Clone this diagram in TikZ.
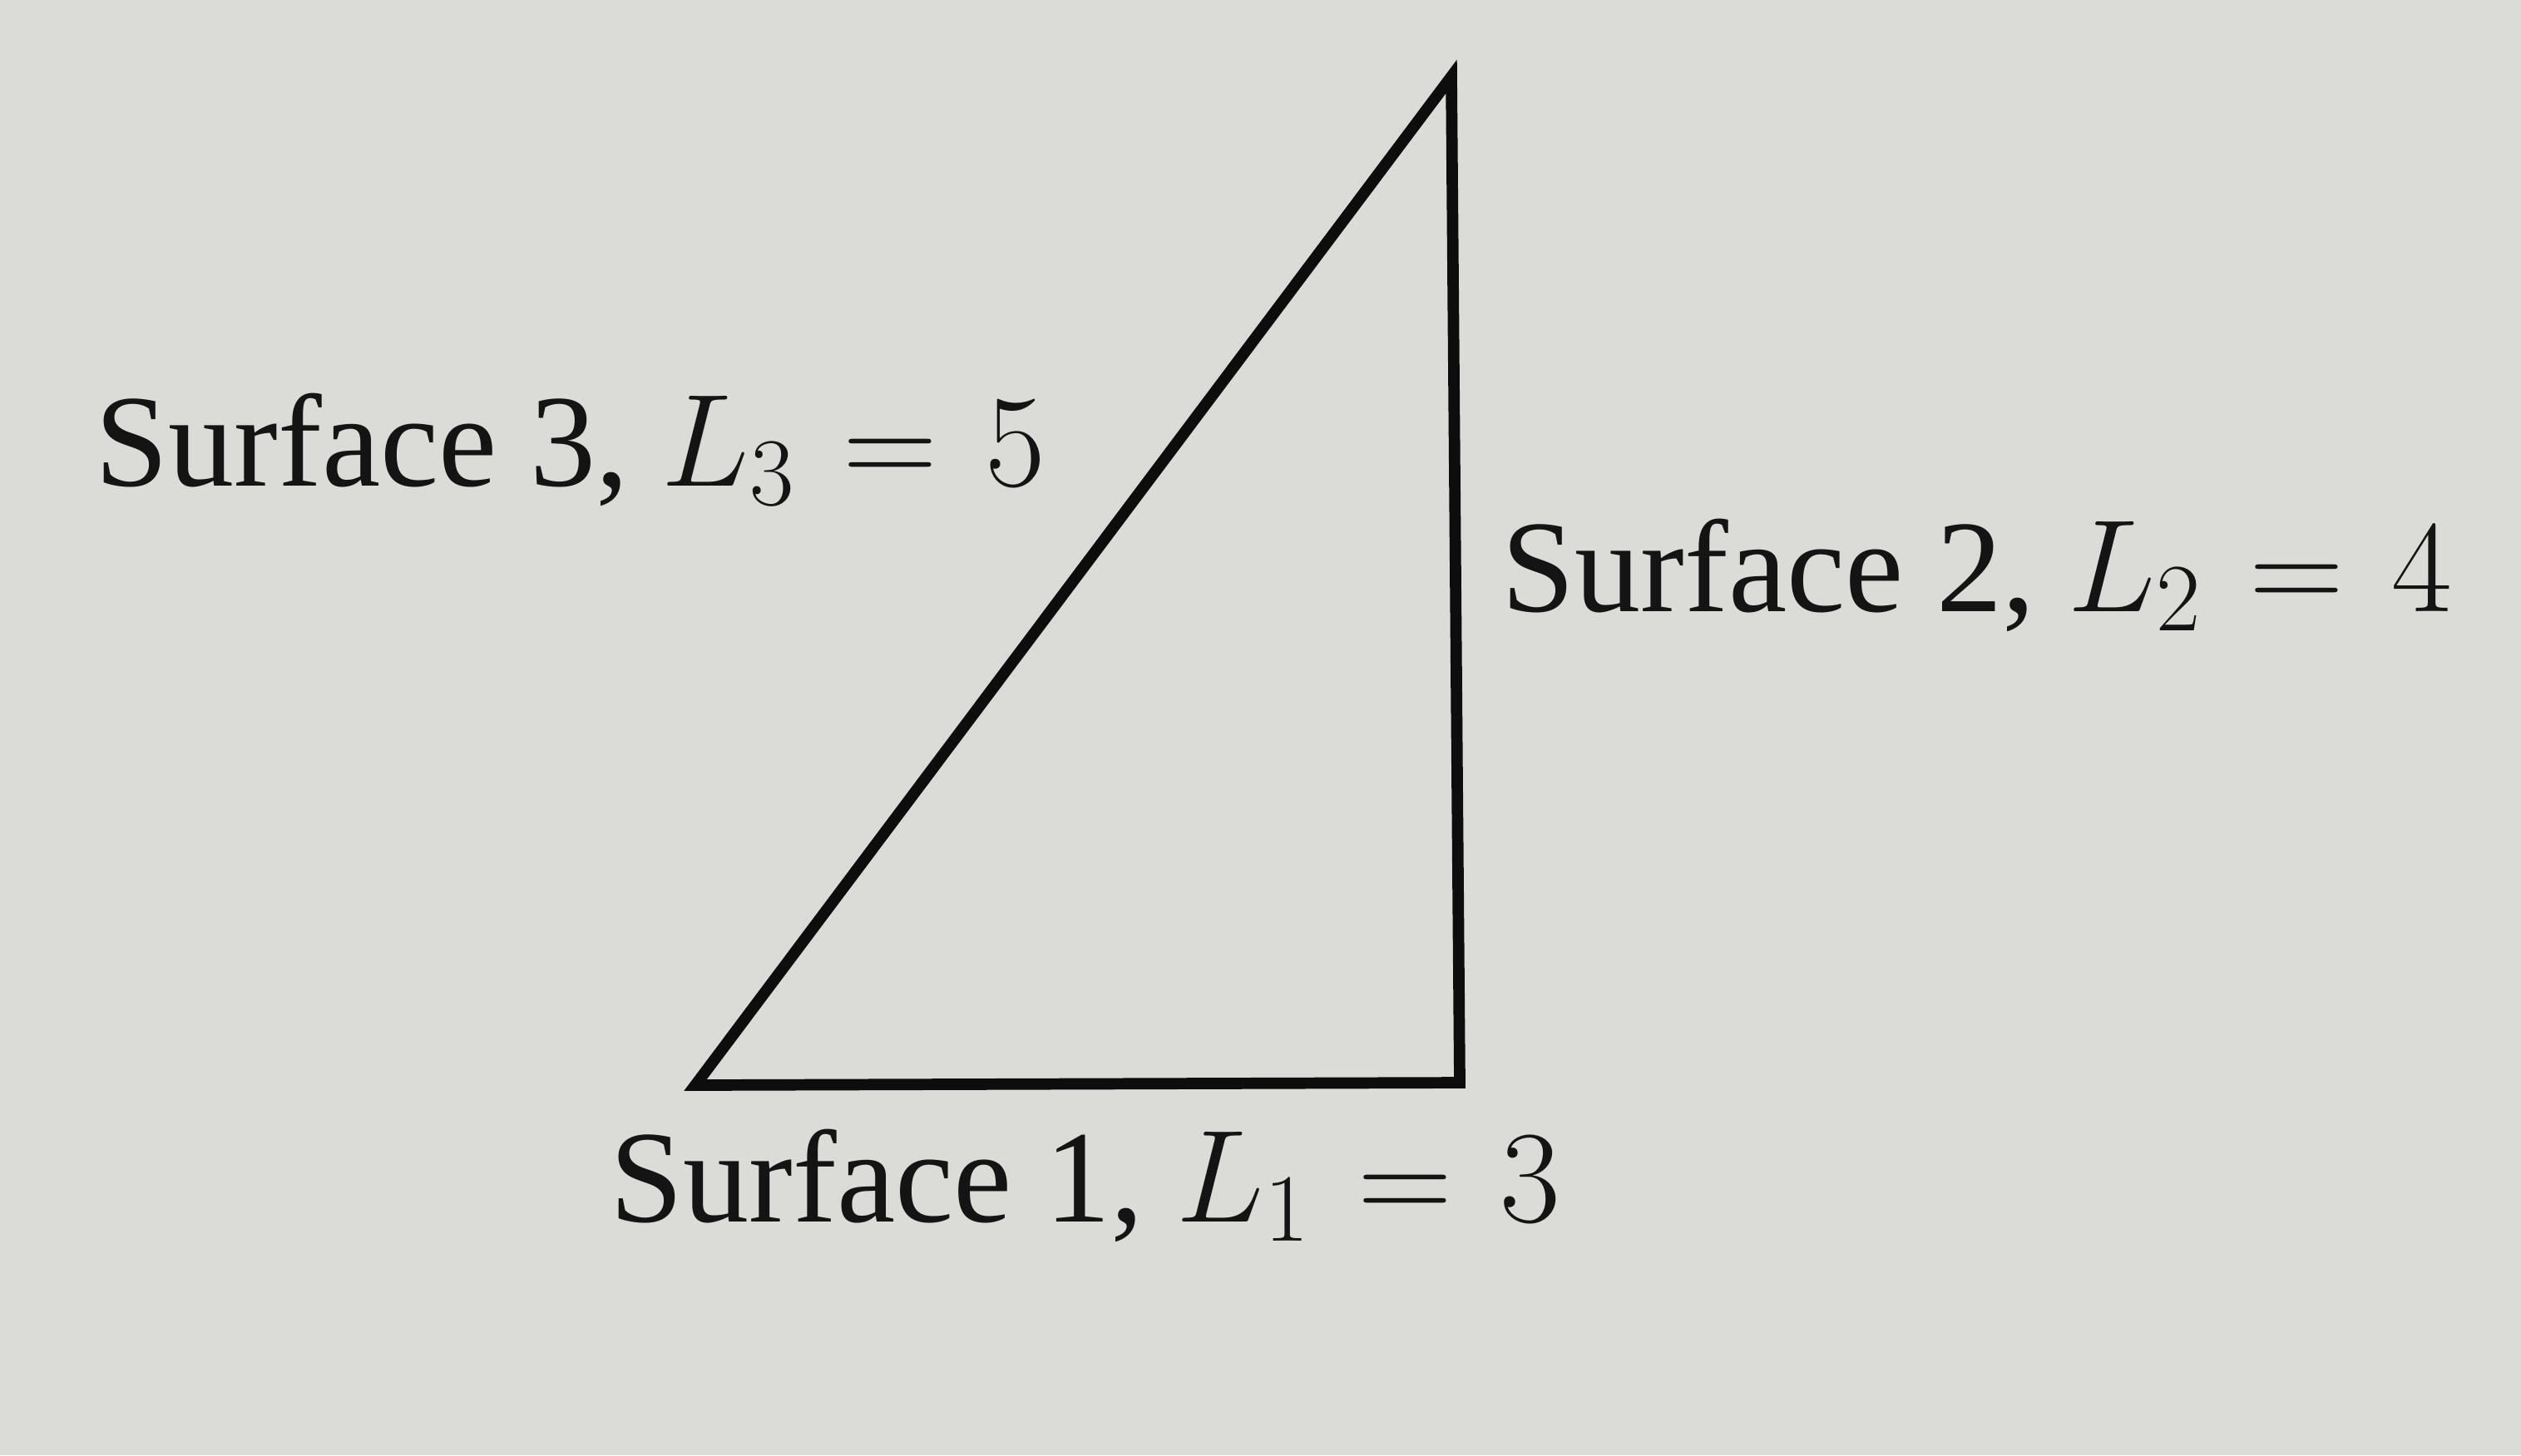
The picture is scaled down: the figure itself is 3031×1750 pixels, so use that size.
\RequirePackage{fix-cm}
\documentclass[tikz,border=0pt]{standalone}
\usepackage[no-math]{fontspec}
\setmainfont{Liberation Serif}
\DeclareMathSizes{45}{45}{33}{24}
\begin{document}
\begin{tikzpicture}[x=0.01cm,y=-0.01cm,
  lbl/.style={anchor=base west,inner sep=0pt,font=\fontsize{45}{52}\selectfont,text=black!92},
  edge/.style={line width=3.9pt,line join=miter,black!95}]
\fill[fill={rgb,255:red,219;green,219;blue,216}] (0,0) rectangle (3031,1750);
\useasboundingbox (0,0) rectangle (3031,1750);
\coordinate (A) at (836,1305);
\coordinate (B) at (1755,1302);
\coordinate (C) at (1745,92);
\draw[edge] (A) -- (B) -- (C) -- cycle;
\node[lbl] (s3) at (114,584) {Surface 3, $\thickmuskip=6.5mu L_3 = 5$};
\node[lbl] (s2) at (1805,735) {Surface 2, $\thickmuskip=6.5mu L_2 = 4$};
\node[lbl] (s1) at (733,1469) {Surface 1, $\thickmuskip=6.5mu L_1 = 3$};
\end{tikzpicture}
\end{document}
